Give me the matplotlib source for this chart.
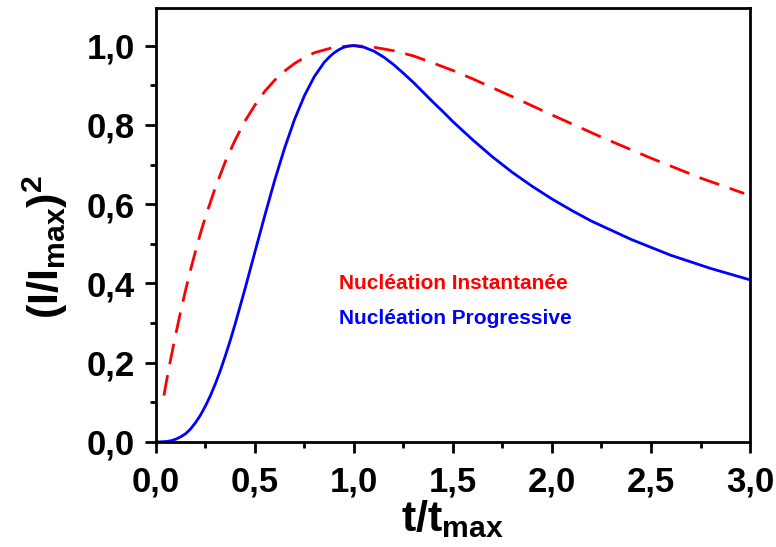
import matplotlib
matplotlib.use("Agg")
import matplotlib.pyplot as plt
from matplotlib.ticker import FuncFormatter, MultipleLocator

plt.rcParams['font.family'] = ['Liberation Sans', 'DejaVu Sans']
plt.rcParams['font.weight'] = 'bold'
plt.rcParams['mathtext.fontset'] = 'custom'
plt.rcParams['mathtext.rm'] = 'Liberation Sans:bold'
plt.rcParams['mathtext.bf'] = 'Liberation Sans:bold'

# values
t_inst = [0.04, 0.05, 0.06, 0.07, 0.08, 0.09, 0.1, 0.125, 0.15, 0.175, 0.2, 0.225,
          0.25, 0.3, 0.35, 0.4, 0.45, 0.5, 0.55, 0.6, 0.65, 0.7, 0.75, 0.8, 0.9,
          1.0, 1.1, 1.2, 1.3, 1.4, 1.5, 1.6, 1.8, 2.0, 2.25, 2.5, 2.75, 2.97]
i_inst = [0.117, 0.145, 0.172, 0.198, 0.223, 0.248, 0.272, 0.330, 0.384, 0.435,
          0.482, 0.527, 0.568, 0.642, 0.707, 0.762, 0.810, 0.850, 0.885, 0.913,
          0.936, 0.955, 0.970, 0.982, 0.996, 1.000, 0.996, 0.987, 0.974, 0.956,
          0.937, 0.916, 0.871, 0.825, 0.769, 0.716, 0.666, 0.627]

t_prog = [0.0, 0.05, 0.075, 0.1, 0.125, 0.15, 0.175, 0.2, 0.225, 0.25, 0.275,
          0.3, 0.325, 0.35, 0.375, 0.4, 0.45, 0.5, 0.55, 0.6, 0.65, 0.7, 0.75,
          0.8, 0.85, 0.875, 0.9, 0.925, 0.95, 0.975, 1.0, 1.05, 1.1, 1.15, 1.2,
          1.25, 1.3, 1.35, 1.4, 1.45, 1.5, 1.6, 1.7, 1.8, 1.9, 2.0, 2.1, 2.2,
          2.4, 2.6, 2.8, 3.0]
i_prog = [0.0, 0.001, 0.003, 0.007, 0.013, 0.021, 0.033, 0.049, 0.068, 0.091,
          0.117, 0.147, 0.180, 0.217, 0.256, 0.298, 0.387, 0.480, 0.572, 0.661,
          0.742, 0.814, 0.874, 0.922, 0.958, 0.971, 0.982, 0.990, 0.996, 0.999,
          1.000, 0.996, 0.986, 0.971, 0.952, 0.930, 0.907, 0.882, 0.857, 0.833,
          0.808, 0.762, 0.719, 0.680, 0.645, 0.613, 0.584, 0.557, 0.511, 0.471,
          0.438, 0.409]

fig = plt.figure(figsize=(7.76, 5.47), dpi=100)
ax = fig.add_axes([0.201, 0.192, 0.7655, 0.7935])

ax.plot(t_inst, i_inst, color='#ff0000', lw=2, linestyle=(0, (7.5, 4)))
ax.plot(t_prog, i_prog, color='#0000ff', lw=2)

ax.text(0.925, 0.40, 'Nucléation Instantanée', color='#ff0000', fontsize=15,
        fontweight='bold', va='center')
ax.text(0.925, 0.312, 'Nucléation Progressive', color='#0000ff', fontsize=15,
        fontweight='bold', va='center')

ax.set_xlim(0, 3.0)
ax.set_ylim(0, 1.095)
ax.xaxis.set_major_locator(MultipleLocator(0.5))
ax.xaxis.set_minor_locator(MultipleLocator(0.25))
ax.yaxis.set_major_locator(MultipleLocator(0.2))
ax.yaxis.set_minor_locator(MultipleLocator(0.1))
fmt = FuncFormatter(lambda v, p: f"{v:.1f}".replace('.', ','))
ax.xaxis.set_major_formatter(fmt)
ax.yaxis.set_major_formatter(fmt)
ax.tick_params(which='major', direction='out', length=8, width=2, labelsize=25)
ax.tick_params(axis='y', which='major', pad=7)
ax.tick_params(axis='x', which='major', pad=9)
ax.tick_params(which='minor', direction='out', length=4, width=2)
for s in ax.spines.values():
    s.set_linewidth(2)

ax.set_xlabel(r'$\mathbf{t/t_{max}}$', fontsize=31, labelpad=0)
ax.set_ylabel(r'$\mathbf{(I/I_{max})^2}$', fontsize=31)
ax.yaxis.set_label_coords(-0.145, 0.45)

fig.savefig('out.png', dpi=100)
